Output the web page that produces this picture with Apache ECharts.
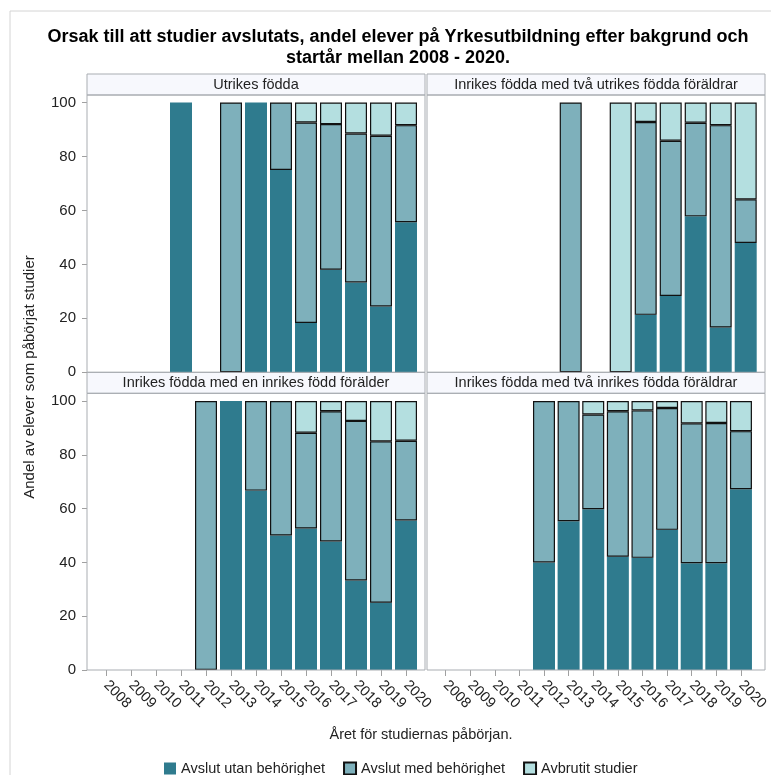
<!DOCTYPE html>
<html>
<head>
<meta charset="utf-8">
<script src="https://cdn.jsdelivr.net/npm/echarts@6/dist/echarts.min.js"></script>
<style>
  html, body { margin: 0; padding: 0; background: #fff; }
  #chart { width: 771px; height: 775px; }
</style>
</head>
<body>
<div id="chart"></div>
<script>
// startår
var years = ['2008', '2009', '2010', '2011', '2012', '2013', '2014', '2015', '2016', '2017', '2018', '2019', '2020']
var panelTitles = [
  'Utrikes födda',
  'Inrikes födda med två utrikes födda föräldrar',
  'Inrikes födda med en inrikes född förälder',
  'Inrikes födda med två inrikes födda föräldrar'
]
var seriesNames = ['Avslut utan behörighet', 'Avslut med behörighet', 'Avbrutit studier']
var yTicks = [0, 20, 40, 60, 80, 100]

// andel (%) per panel, null = inga elever
var utanP1 = [null, null, null, 100, null, null, 100, 75, 18.3, 38, 33.3, 24.4, 55.6]
var medP1 = [null, null, null, null, null, 100, null, 25, 74.3, 54, 55.2, 63.3, 36]
var avbrP1 = [null, null, null, null, null, null, null, null, 7.4, 8, 11.5, 12.3, 8.4]

var utanP2 = [null, null, null, null, null, null, null, null, 21.3, 28.3, 57.8, 16.6, 47.9]
var medP2 = [null, null, null, null, null, 100, null, null, 71.5, 57.5, 34.7, 75, 16.2]
var avbrP2 = [null, null, null, null, null, null, null, 100, 7.2, 14.2, 7.5, 8.4, 35.9]

var utanP3 = [null, null, null, null, null, 100, 66.7, 50, 52.6, 47.8, 33.3, 25, 55.6]
var medP3 = [null, null, null, null, 100, null, 33.3, 50, 35.6, 48.4, 59.3, 60, 29.6]
var avbrP3 = [null, null, null, null, null, null, null, null, 11.8, 3.8, 7.4, 15, 14.8]

var utanP4 = [null, null, null, null, 40, 55.3, 59.8, 42.1, 41.7, 52.1, 39.7, 39.7, 67.2]
var medP4 = [null, null, null, null, 60, 44.7, 35.2, 54.1, 54.8, 45.3, 52, 52.1, 21.6]
var avbrP4 = [null, null, null, null, null, null, 5, 3.8, 3.5, 2.6, 8.3, 8.2, 11.2]

var panelData = [
  [utanP1, medP1, avbrP1],
  [utanP2, medP2, avbrP2],
  [utanP3, medP3, avbrP3],
  [utanP4, medP4, avbrP4]
]

var colors = ['#2f7b8e', '#7eb0bb', '#b4dfe0']
var frameColor = '#a9adb2'
var font = 'Liberation Sans, Arial, sans-serif'

// panel frames (px)
var frames = [
  { x: 87, y: 74, w: 338, plotTop: 95, plotBottom: 372.3 },
  { x: 427, y: 74, w: 338, plotTop: 95, plotBottom: 372.3 },
  { x: 87, y: 372.3, w: 338, plotTop: 393.3, plotBottom: 670 },
  { x: 427, y: 372.3, w: 338, plotTop: 393.3, plotBottom: 670 }
]
var grids = [
  { left: 93.5, top: 102.5, width: 325, height: 269.8 },
  { left: 433.2, top: 102.5, width: 325, height: 269.8 },
  { left: 93.5, top: 401, width: 325, height: 269 },
  { left: 433.2, top: 401, width: 325, height: 269 }
]

var xAxes = []
var yAxes = []
var series = []
var graphics = []

grids.forEach(function(g, i) {
  var isBottom = i >= 2
  var isLeft = i % 2 === 0
  xAxes.push({
    type: 'category',
    gridIndex: i,
    data: years,
    axisLine: { show: false },
    axisTick: { show: isBottom, alignWithLabel: true, interval: 0, length: 6, lineStyle: { color: '#a0a0a0' }},
    axisLabel: { show: isBottom, interval: 0, rotate: -45, margin: 13, fontSize: 14.5, color: '#222', fontFamily: font }
  })
  yAxes.push({
    type: 'value',
    gridIndex: i,
    min: 0,
    max: 100,
    interval: 20,
    offset: 6.5,
    splitLine: { show: false },
    axisLine: { show: false },
    axisTick: { show: isLeft, length: 5, lineStyle: { color: '#a0a0a0' }},
    axisLabel: { show: isLeft, fontSize: 15, color: '#222', fontFamily: font, margin: 11 }
  })
  panelData[i].forEach(function(vals, k) {
    series.push({
      name: seriesNames[k],
      type: 'bar',
      stack: 'p' + i,
      xAxisIndex: i,
      yAxisIndex: i,
      barWidth: 22,
      data: vals,
      itemStyle: {
        color: colors[k],
        borderColor: k === 0 ? 'transparent' : '#111',
        borderWidth: k === 0 ? 0 : 1.2
      }
    })
  })
})

frames.forEach(function(f, i) {
  graphics.push({
    type: 'rect',
    shape: { x: f.x, y: f.y, width: f.w, height: f.plotTop - f.y },
    style: { fill: '#f7f8fd', stroke: frameColor, lineWidth: 1 }
  })
  graphics.push({
    type: 'rect',
    z: 10,
    shape: { x: f.x, y: f.plotTop, width: f.w, height: f.plotBottom - f.plotTop },
    style: { fill: 'none', stroke: frameColor, lineWidth: 1 }
  })
  graphics.push({
    type: 'text',
    x: f.x + f.w / 2,
    y: (f.y + f.plotTop) / 2,
    style: {
      text: panelTitles[i], fill: '#222', font: '14.5px ' + font,
      textAlign: 'center', textVerticalAlign: 'middle'
    }
  })
})

// outer frame
graphics.push({
  type: 'rect',
  shape: { x: 10, y: 11, width: 800, height: 800 },
  style: { fill: 'none', stroke: '#d4d4d4', lineWidth: 1 }
})
// title
graphics.push({
  type: 'text',
  x: 398,
  y: 48,
  style: {
    text: 'Orsak till att studier avslutats, andel elever på Yrkesutbildning efter bakgrund och\nstartår mellan 2008 - 2020.',
    fill: '#000', font: 'bold 18px ' + font, lineHeight: 21,
    textAlign: 'center', textVerticalAlign: 'middle'
  }
})
// axis titles
graphics.push({
  type: 'text',
  x: 30,
  y: 377,
  rotation: Math.PI / 2,
  style: {
    text: 'Andel av elever som påbörjat studier', fill: '#222', font: '15px ' + font,
    textAlign: 'center', textVerticalAlign: 'middle'
  }
})
graphics.push({
  type: 'text',
  x: 421,
  y: 735,
  style: {
    text: 'Året för studiernas påbörjan.', fill: '#222', font: '14.5px ' + font,
    textAlign: 'center', textVerticalAlign: 'middle'
  }
})

var option = {
  animation: false,
  legend: {
    data: seriesNames,
    left: 159,
    top: 756,
    icon: 'rect',
    itemWidth: 12,
    itemHeight: 12,
    itemGap: 18,
    textStyle: { fontSize: 14.5, color: '#222', fontFamily: font }
  },
  grid: grids,
  xAxis: xAxes,
  yAxis: yAxes,
  series: series,
  graphic: graphics
}

var chart = echarts.init(document.getElementById('chart'))
chart.setOption(option)
</script>
</body>
</html>
